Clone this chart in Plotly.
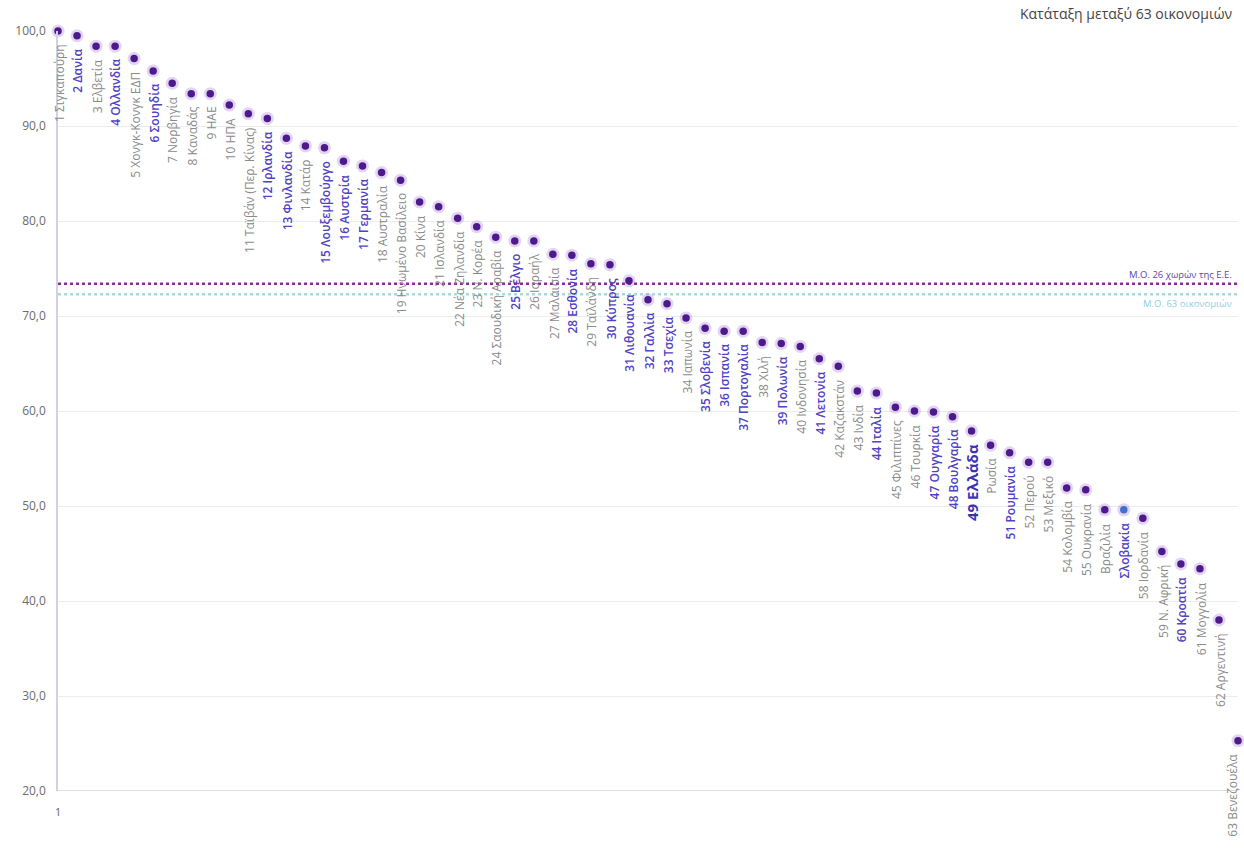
import plotly.graph_objects as go

# Ranking of 63 economies (score, 0-100)
labels = [
    "1 Σιγκαπούρη", "2 Δανία", "3 Ελβετία", "4 Ολλανδία", "5 Χονγκ-Κονγκ ΕΔΠ",
    "6 Σουηδία", "7 Νορβηγία", "8 Καναδάς", "9 ΗΑΕ", "10 ΗΠΑ",
    "11 Ταϊβάν (Περ. Κίνας)", "12 Ιρλανδία", "13 Φινλανδία", "14 Κατάρ", "15 Λουξεμβούργο",
    "16 Αυστρία", "17 Γερμανία", "18 Αυστραλία", "19 Ηνωμένο Βασίλειο", "20 Κίνα",
    "21 Ισλανδία", "22 Νέα Ζηλανδία", "23 Ν. Κορέα", "24 Σαουδική Αραβία", "25 Βέλγιο",
    "26 Ισραήλ", "27 Μαλαισία", "28 Εσθονία", "29 Ταϊλάνδη", "30 Κύπρος",
    "31 Λιθουανία", "32 Γαλλία", "33 Τσεχία", "34 Ιαπωνία", "35 Σλοβενία",
    "36 Ισπανία", "37 Πορτογαλία", "38 Χιλή", "39 Πολωνία", "40 Ινδονησία",
    "41 Λετονία", "42 Καζακστάν", "43 Ινδία", "44 Ιταλία", "45 Φιλιππίνες",
    "46 Τουρκία", "47 Ουγγαρία", "48 Βουλγαρία", "49 Ελλάδα", "Ρωσία",
    "51 Ρουμανία", "52 Περού", "53 Μεξικό", "54 Κολομβία", "55 Ουκρανία",
    "Βραζιλία", "Σλοβακία", "58 Ιορδανία", "59 Ν. Αφρική", "60 Κροατία",
    "61 Μογγολία", "62 Αργεντινή", "63 Βενεζουέλα",
]
scores = [
    100.0, 99.5, 98.4, 98.4, 97.1, 95.8, 94.5, 93.4, 93.4, 92.2,
    91.3, 90.8, 88.7, 87.9, 87.7, 86.3, 85.8, 85.1, 84.3, 82.0,
    81.5, 80.3, 79.4, 78.3, 77.9, 77.9, 76.5, 76.4, 75.5, 75.4,
    73.7, 71.7, 71.3, 69.8, 68.7, 68.4, 68.4, 67.2, 67.1, 66.8,
    65.5, 64.7, 62.1, 61.9, 60.4, 60.0, 59.9, 59.4, 57.9, 56.4,
    55.6, 54.6, 54.6, 51.9, 51.7, 49.6, 49.6, 48.7, 45.2, 43.9,
    43.4, 38.0, 25.3,
]
eu_member = [
    False, True, False, True, False, True, False, False, False, False,
    False, True, True, False, True, True, True, False, False, False,
    False, False, False, False, True, False, False, True, False, True,
    True, True, True, False, True, True, True, False, True, False,
    True, False, False, True, False, False, True, True, True, False,
    True, False, False, False, False, False, True, False, False, True,
    False, False, False,
]
greece_rank = 49
slovakia_rank = 57
eu_average = 73.4
all_average = 72.3

ranks = list(range(1, len(scores) + 1))
last_rank = ranks[-1]

GRAY = "#8a8a8a"
EU_BLUE = "#5042c4"
DOT = "#4d1a8c"
HALO = "rgba(150,100,210,0.28)"
FONT = "Open Sans"

marker_core = [("#3f6fd0" if r == slovakia_rank else DOT) for r in ranks]

fig = go.Figure()

# soft halo behind each dot
fig.add_trace(go.Scatter(
    x=ranks, y=scores, mode="markers", cliponaxis=False, hoverinfo="skip",
    marker=dict(size=13, color=HALO, line=dict(width=0)), showlegend=False,
))
fig.add_trace(go.Scatter(
    x=ranks, y=scores, mode="markers", cliponaxis=False,
    marker=dict(size=7.5, color=marker_core, line=dict(width=0)),
    text=labels, hovertemplate="%{text}: %{y:.1f}<extra></extra>", showlegend=False,
))

# average lines
fig.add_shape(type="line", xref="paper", x0=0, x1=1, yref="y", y0=eu_average, y1=eu_average,
              line=dict(color="#8b2a9c", width=2.5, dash="dot"), layer="below")
fig.add_shape(type="line", xref="paper", x0=0, x1=1, yref="y", y0=all_average, y1=all_average,
              line=dict(color="#a8d8e4", width=2.5, dash="dot"), layer="below")

annotations = []
for r, name, val, eu in zip(ranks, labels, scores, eu_member):
    if r == greece_rank:
        col, size, weight = "#3b33b8", 15, 700
    elif eu:
        col, size, weight = EU_BLUE, 12, 600
    else:
        col, size, weight = GRAY, 12, 400
    # keep the right-most label inside the page
    xanchor, xshift = ("right", 5) if r == last_rank else ("center", 1)
    annotations.append(dict(
        x=r, y=val, xref="x", yref="y", text=name, showarrow=False,
        textangle=-90, xanchor=xanchor, yanchor="top", yshift=-11, xshift=xshift,
        font=dict(size=size, color=col, family=FONT, weight=weight),
    ))

annotations += [
    dict(xref="paper", yref="paper", x=0.997, y=1.0, xanchor="right", yanchor="bottom",
         yshift=6, text="Κατάταξη μεταξύ 63 οικονομιών", showarrow=False,
         font=dict(size=14, color="#444444", family=FONT)),
    dict(xref="paper", yref="y", x=0.997, y=eu_average, xanchor="right", yanchor="bottom",
         yshift=1, text="Μ.Ο. 26 χωρών της Ε.Ε.", showarrow=False,
         font=dict(size=9.5, color="#5a45b5", family=FONT)),
    dict(xref="paper", yref="y", x=0.997, y=all_average, xanchor="right", yanchor="top",
         yshift=-1, text="Μ.Ο. 63 οικονομιών", showarrow=False,
         font=dict(size=9.5, color="#8ccfe0", family=FONT)),
]

fig.update_layout(
    width=1244, height=852,
    margin=dict(l=58, r=6, t=31, b=61),
    paper_bgcolor="white", plot_bgcolor="white",
    separators=",.",
    annotations=annotations,
    font=dict(family=FONT, color="#666666"),
    xaxis=dict(
        range=[1, 63], tickvals=[1], ticktext=["1"], showgrid=False, zeroline=False,
        showline=False, ticks="", ticklabelstandoff=12,
        tickfont=dict(size=11.5, color="#666666"),
    ),
    yaxis=dict(
        range=[20, 100], dtick=10, tickformat=".1f", showgrid=True, gridcolor="#ececec",
        gridwidth=1, zeroline=False, showline=True, linecolor="#cfd3e0", linewidth=1.5,
        ticks="", ticklabelstandoff=8, tickfont=dict(size=12, color="#6b6b6b"),
    ),
)
# baseline at 20
fig.add_shape(type="line", xref="paper", x0=0, x1=1, yref="y", y0=20, y1=20,
              line=dict(color="#d3d3ea", width=1.5), layer="below")

fig.write_html("out.html")
